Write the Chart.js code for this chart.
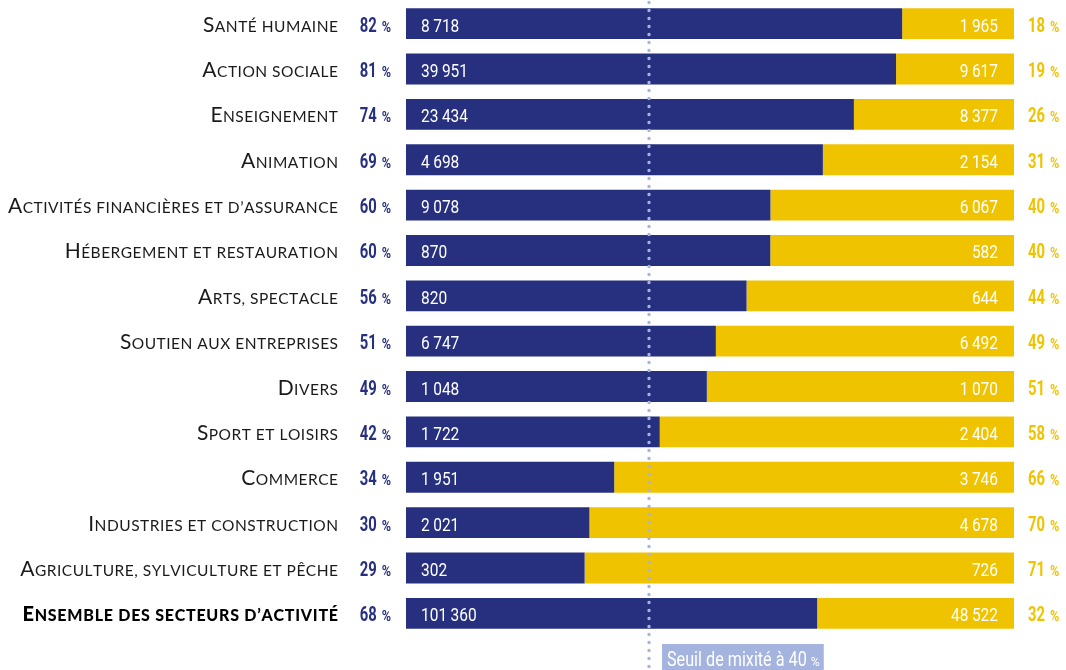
<!DOCTYPE html>
<html>
<head>
<meta charset="utf-8">
<script src="https://cdn.jsdelivr.net/npm/chart.js@4/dist/chart.umd.min.js"></script>
<style>
  html, body { margin: 0; padding: 0; background: #ffffff; }
  #wrap { width: 1066px; height: 670px; position: relative; }
</style>
</head>
<body>
<div id="wrap"><canvas id="chart"></canvas></div>
<script>
// Secteurs d'activité (le dernier est le total, affiché en gras)
const sectors = [
  'Santé humaine',
  'Action sociale',
  'Enseignement',
  'Animation',
  'Activités financières et d’assurance',
  'Hébergement et restauration',
  'Arts, spectacle',
  'Soutien aux entreprises',
  'Divers',
  'Sport et loisirs',
  'Commerce',
  'Industries et construction',
  'Agriculture, sylviculture et pêche',
  'Ensemble des secteurs d’activité'
];
// Effectifs de femmes et d'hommes par secteur
const womenCounts = [8718, 39951, 23434, 4698, 9078, 870, 820, 6747, 1048, 1722, 1951, 2021, 302, 101360];
const menCounts   = [1965, 9617, 8377, 2154, 6067, 582, 644, 6492, 1070, 2404, 3746, 4678, 726, 48522];
// Parts affichées (en %)
const womenPct = [82, 81, 74, 69, 60, 60, 56, 51, 49, 42, 34, 30, 29, 68];
const menPct   = [18, 19, 26, 31, 40, 40, 44, 49, 51, 58, 66, 70, 71, 32];
// Seuil de mixité
const threshold = 40;
const thresholdText = 'Seuil de mixité à 40';

const NAVY = '#27307f';
const GOLD = '#f0c300';
const DOTS = '#a6b5de';
const LABEL_FONT = 'Lato, "Open Sans", sans-serif';
const NUM_FONT = 'Roboto, "Open Sans", sans-serif';
const NUM_SX = 0.86;   // chasse étroite des chiffres
const PCT_SX = 0.74;

const womenShare = womenCounts.map((w, i) => w / (w + menCounts[i]) * 100);
const menShare = menCounts.map((m, i) => m / (womenCounts[i] + m) * 100);

function groups(n) {
  return String(n).replace(/\B(?=(\d{3})+(?!\d))/g, ' ').split(' ');
}

// Texte resserré horizontalement
function cWidth(ctx, s, sx) { return ctx.measureText(s).width * sx; }
function cFill(ctx, s, x, y, sx) {
  ctx.save();
  ctx.translate(x, y);
  ctx.scale(sx, 1);
  ctx.fillText(s, 0, 0);
  ctx.restore();
}

// Nombre avec espace fine entre les milliers
function numWidth(ctx, n, gap) {
  let w = 0;
  groups(n).forEach((s, k) => { w += cWidth(ctx, s, NUM_SX) + (k ? gap : 0); });
  return w;
}
function drawNum(ctx, n, x, y, gap) {
  groups(n).forEach((s, k) => {
    if (k) x += gap;
    cFill(ctx, s, x, y, NUM_SX);
    x += cWidth(ctx, s, NUM_SX);
  });
}

// Petites capitales : majuscules pleine taille, minuscules en capitales réduites
function drawSmallCaps(ctx, text, right, y, bigSize, smallSize, weight, spacing) {
  const chars = [];
  for (const ch of text) {
    const big = ch !== ch.toLowerCase();
    chars.push({ c: ch.toUpperCase(), size: big ? bigSize : smallSize });
  }
  let total = 0;
  chars.forEach(o => {
    ctx.font = `${weight} ${o.size}px ${LABEL_FONT}`;
    o.w = ctx.measureText(o.c).width;
    total += o.w + spacing;
  });
  total -= spacing;
  let x = right - total;
  chars.forEach(o => {
    ctx.font = `${weight} ${o.size}px ${LABEL_FONT}`;
    ctx.fillText(o.c, x, y);
    x += o.w + spacing;
  });
}

function drawPct(ctx, value, x, y, align, color) {
  ctx.fillStyle = color;
  const s = String(value);
  ctx.font = `bold 20px ${NUM_FONT}`;
  const wNum = cWidth(ctx, s, PCT_SX);
  ctx.font = `bold 14px ${NUM_FONT}`;
  const wP = cWidth(ctx, '%', 0.9);
  const gap = 5;
  const start = align === 'right' ? x - (wNum + gap + wP) : x;
  ctx.font = `bold 20px ${NUM_FONT}`;
  cFill(ctx, s, start, y, PCT_SX);
  ctx.font = `bold 14px ${NUM_FONT}`;
  cFill(ctx, '%', start + wNum + gap, y, 0.9);
}

const labelsPlugin = {
  id: 'sectorLabels',
  afterDatasetsDraw(chart) {
    const ctx = chart.ctx;
    const xs = chart.scales.x;
    const ys = chart.scales.y;
    ctx.save();
    ctx.textBaseline = 'alphabetic';
    ctx.textAlign = 'left';
    sectors.forEach((name, i) => {
      const cy = ys.getPixelForValue(i);
      const last = i === sectors.length - 1;
      // Libellé du secteur
      ctx.fillStyle = last ? '#000000' : '#1a1a1a';
      if (last) drawSmallCaps(ctx, name, xs.left - 68, cy + 8, 20, 16, 900, 0.75);
      else drawSmallCaps(ctx, name, xs.left - 68, cy + 8, 21, 15.5, 400, 0.5);
      // Parts
      drawPct(ctx, womenPct[i], xs.left - 15, cy + 8, 'right', NAVY);
      drawPct(ctx, menPct[i], xs.right + 14, cy + 8, 'left', GOLD);
      // Effectifs dans les barres
      ctx.fillStyle = '#ffffff';
      ctx.font = `18px ${NUM_FONT}`;
      drawNum(ctx, womenCounts[i], xs.getPixelForValue(0) + 15, cy + 8, 3.5);
      const w = numWidth(ctx, menCounts[i], 3.5);
      drawNum(ctx, menCounts[i], xs.getPixelForValue(100) - 16 - w, cy + 8, 3.5);
    });

    // Ligne pointillée du seuil
    const tx = Math.round(xs.getPixelForValue(threshold));
    ctx.strokeStyle = DOTS;
    ctx.lineWidth = 3.4;
    ctx.lineCap = 'round';
    ctx.setLineDash([0, 8]);
    ctx.beginPath();
    ctx.moveTo(tx, 2.5);
    ctx.lineTo(tx, chart.height);
    ctx.stroke();
    ctx.setLineDash([]);

    // Étiquette du seuil
    const bx = tx + 13;
    const by = ys.bottom + 8;
    ctx.font = `19.5px ${NUM_FONT}`;
    const tw = cWidth(ctx, thresholdText, 0.83);
    ctx.font = `13px ${NUM_FONT}`;
    const pw = cWidth(ctx, '%', 0.95);
    const boxW = 5 + tw + 4 + pw + 4;
    ctx.fillStyle = '#a4b4de';
    ctx.fillRect(bx, by, boxW, chart.height - by + 2);
    ctx.fillStyle = '#ffffff';
    ctx.font = `19.5px ${NUM_FONT}`;
    cFill(ctx, thresholdText, bx + 5, by + 22, 0.83);
    ctx.font = `13px ${NUM_FONT}`;
    cFill(ctx, '%', bx + 5 + tw + 4, by + 22, 0.95);
    ctx.restore();
  }
};

new Chart(document.getElementById('chart'), {
  type: 'bar',
  data: {
    labels: sectors,
    datasets: [
      { label: 'Femmes', data: womenShare, backgroundColor: NAVY, borderWidth: 0 },
      { label: 'Hommes', data: menShare, backgroundColor: GOLD, borderWidth: 0 }
    ]
  },
  options: {
    indexAxis: 'y',
    responsive: true,
    maintainAspectRatio: false,
    animation: false,
    events: [],
    layout: { padding: { left: 406, right: 52, top: 1, bottom: 34 } },
    datasets: { bar: { categoryPercentage: 0.68, barPercentage: 1 } },
    scales: {
      x: { stacked: true, min: 0, max: 100, display: false },
      y: { stacked: true, display: false }
    },
    plugins: { legend: { display: false }, tooltip: { enabled: false } }
  },
  plugins: [labelsPlugin]
});
</script>
</body>
</html>
